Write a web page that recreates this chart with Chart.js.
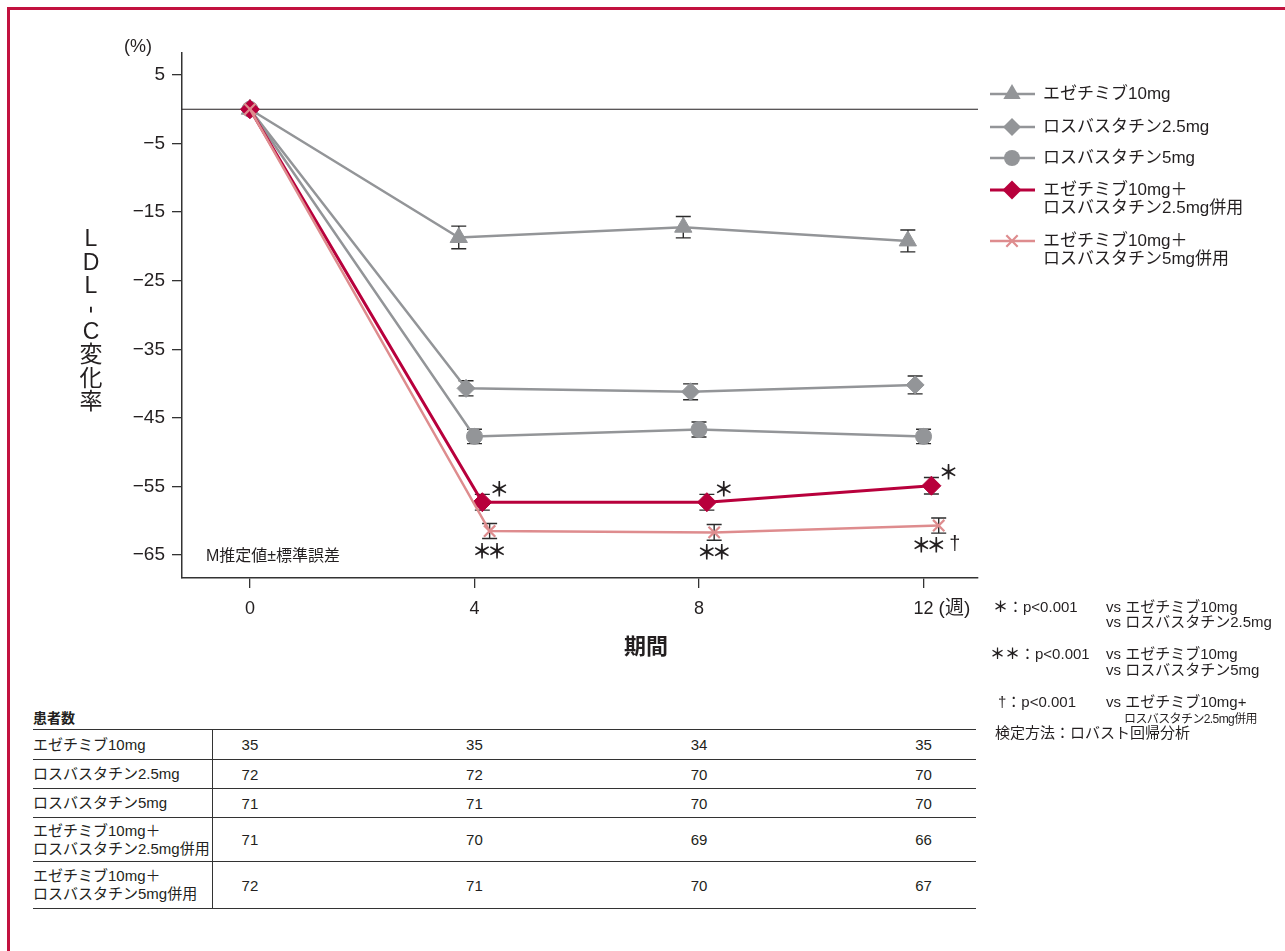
<!DOCTYPE html>
<html lang="ja">
<head>
<meta charset="utf-8">
<title>LDL-C変化率</title>
<script src="https://cdn.jsdelivr.net/npm/chart.js@4.4.1/dist/chart.umd.min.js"></script>
<style>
  html, body { margin: 0; padding: 0; background: #fff; }
  body { width: 1285px; height: 951px; position: relative; overflow: hidden;
         font-family: "Liberation Sans", "Noto Sans CJK JP", sans-serif; color: #231f20; }
  .frame { position: absolute; left: 7px; top: 7px; right: 0; bottom: 0;
           border-left: 3px solid #c2123f; border-top: 3px solid #c2123f; }
  #chart { position: absolute; left: 0; top: 0; }
  .note { position: absolute; font-size: 15px; line-height: 16px; white-space: nowrap; }
  .note.small { font-size: 12px; letter-spacing: -0.6px; }
  .note b { font-weight: bold; }
  .caption { position: absolute; left: 33px; top: 707px; font-size: 14px; font-weight: bold; }
  #table { position: absolute; left: 33px; top: 729px; width: 943px; border-top: 1.5px solid #333; }
  .row { position: relative; border-bottom: 1.5px solid #333; }
  .row .label { position: absolute; left: 0; top: 0; bottom: 0; width: 179px; border-right: 1px solid #333;
                display: flex; align-items: center; font-size: 15px; line-height: 18px; }
  .row .val { position: absolute; top: 0; bottom: 0; width: 60px; display: flex; align-items: center;
              justify-content: center; font-size: 15px; }
</style>
</head>
<body>
<div class="frame"></div>
<canvas id="chart" width="1285" height="680"></canvas>

<div class="note" style="left:993px; top:599px;"><b>＊</b>：p&lt;0.001</div>
<div class="note" style="left:1106px; top:599px;">vs エゼチミブ10mg</div>
<div class="note" style="left:1106px; top:614px;">vs ロスバスタチン2.5mg</div>
<div class="note" style="left:990px; top:646px;"><b>＊＊</b>：p&lt;0.001</div>
<div class="note" style="left:1106px; top:646px;">vs エゼチミブ10mg</div>
<div class="note" style="left:1106px; top:662px;">vs ロスバスタチン5mg</div>
<div class="note" style="left:998px; top:694px;">†：p&lt;0.001</div>
<div class="note" style="left:1106px; top:694px;">vs エゼチミブ10mg+</div>
<div class="note small" style="left:1124px; top:711px;">ロスバスタチン2.5mg併用</div>
<div class="note" style="left:995px; top:725px;">検定方法：ロバスト回帰分析</div>

<div class="caption">患者数</div>
<div id="table"></div>

<script>
const weeks = [0, 4, 8, 12];
const xTicks = [0, 4, 8, 12];
const yTicks = [5, -5, -15, -25, -35, -45, -55, -65];

const seriesLabels = [
    ['エゼチミブ10mg'],
    ['ロスバスタチン2.5mg'],
    ['ロスバスタチン5mg'],
    ['エゼチミブ10mg＋', 'ロスバスタチン2.5mg併用'],
    ['エゼチミブ10mg＋', 'ロスバスタチン5mg併用']
];

// LDL-C change (%) and standard error
const eze10 = [0, -18.7, -17.2, -19.2];
const eze10Err = [0, 1.65, 1.55, 1.6];
const ros25 = [0, -40.7, -41.2, -40.2];
const ros25Err = [0, 1.1, 1.15, 1.3];
const ros5 = [0, -47.7, -46.7, -47.7];
const ros5Err = [0, 1.05, 1.1, 1.05];
const combo25 = [0, -57.3, -57.3, -54.9];
const combo25Err = [0, 1.15, 1.15, 1.2];
const combo5 = [0, -61.5, -61.7, -60.7];
const combo5Err = [0, 1.1, 1.15, 1.1];

// significance marks
const combo25Marks = ['', '＊', '＊', '＊'];
const combo5Marks = ['', '＊＊', '＊＊', '＊＊'];
const combo5Dagger = [false, false, false, true];

// patient counts
const tableLabels = seriesLabels;
const nEze10 = [35, 35, 34, 35];
const nRos25 = [72, 72, 70, 70];
const nRos5 = [71, 71, 70, 70];
const nCombo25 = [71, 70, 69, 66];
const nCombo5 = [72, 71, 70, 67];

// small offsets (weeks) so the markers sit side by side
const dodge = [-0.28, -0.15, 0, 0.14, 0.27];

const FONT = '"Liberation Sans", "Noto Sans CJK JP", sans-serif';
const INK = '#231f20';
const GRAY = '#939598';
const RED = '#b8003c';
const PINK = '#de8c8e';

const styles = [
    { color: GRAY, pointStyle: 'triangle', radius: 10, width: 2.5, order: 4 },
    { color: GRAY, pointStyle: 'rectRot', radius: 9, width: 2.5, order: 3 },
    { color: GRAY, pointStyle: 'circle', radius: 8, width: 2.5, order: 2 },
    { color: RED, pointStyle: 'rectRot', radius: 9.5, width: 3, order: 1 },
    { color: PINK, pointStyle: 'crossRot', radius: 8, width: 2.5, order: 0 }
];
const values = [eze10, ros25, ros5, combo25, combo5];
const errors = [eze10Err, ros25Err, ros5Err, combo25Err, combo5Err];

function points(k) {
    return weeks.map((w, j) => ({ x: w === 0 ? w : w + dodge[k], y: values[k][j], err: errors[k][j] }));
}

function drawMarker(ctx, st, x, y) {
    const r = st.radius;
    ctx.save();
    ctx.fillStyle = st.color;
    ctx.strokeStyle = st.color;
    ctx.lineWidth = st.pointStyle === 'crossRot' ? 2.2 : 1;
    ctx.beginPath();
    if (st.pointStyle === 'triangle') {
        ctx.moveTo(x, y - r);
        ctx.lineTo(x + r * 0.866, y + r * 0.5);
        ctx.lineTo(x - r * 0.866, y + r * 0.5);
        ctx.closePath(); ctx.fill();
    } else if (st.pointStyle === 'rectRot') {
        ctx.moveTo(x, y - r); ctx.lineTo(x + r, y); ctx.lineTo(x, y + r); ctx.lineTo(x - r, y);
        ctx.closePath(); ctx.fill();
    } else if (st.pointStyle === 'circle') {
        ctx.arc(x, y, r, 0, Math.PI * 2); ctx.fill();
    } else {
        const d = r * 0.707;
        ctx.moveTo(x - d, y - d); ctx.lineTo(x + d, y + d);
        ctx.moveTo(x + d, y - d); ctx.lineTo(x - d, y + d);
        ctx.stroke();
    }
    ctx.restore();
}

const MARK_FONT = 'bold 20px "Noto Sans CJK JP", sans-serif';

const extras = {
    id: 'extras',
    beforeDatasetsDraw(chart) {
        const { ctx, chartArea, scales: { x, y } } = chart;
        ctx.save();
        // reference line at 0
        const y0 = y.getPixelForValue(0);
        ctx.strokeStyle = INK;
        ctx.lineWidth = 1.2;
        ctx.beginPath();
        ctx.moveTo(chartArea.left, y0);
        ctx.lineTo(chartArea.right, y0);
        ctx.stroke();
        // error bars
        ctx.strokeStyle = '#2b2b2b';
        ctx.lineWidth = 1.4;
        chart.data.datasets.forEach(ds => {
            ds.data.forEach(p => {
                if (!p.err) return;
                const px = x.getPixelForValue(p.x);
                const t = y.getPixelForValue(p.y + p.err);
                const b = y.getPixelForValue(p.y - p.err);
                ctx.beginPath();
                ctx.moveTo(px, t); ctx.lineTo(px, b);
                ctx.moveTo(px - 7.5, t); ctx.lineTo(px + 7.5, t);
                ctx.moveTo(px - 7.5, b); ctx.lineTo(px + 7.5, b);
                ctx.stroke();
            });
        });
        ctx.restore();
    },
    afterDraw(chart) {
        const { ctx, scales: { x, y } } = chart;
        ctx.save();
        ctx.fillStyle = INK;
        ctx.textBaseline = 'middle';

        // significance marks
        ctx.textAlign = 'center';
        ctx.font = MARK_FONT;
        chart.data.datasets[3].data.forEach((p, j) => {
            if (!combo25Marks[j]) return;
            ctx.fillText(combo25Marks[j], x.getPixelForValue(p.x) + 17, y.getPixelForValue(p.y) - 13);
        });
        chart.data.datasets[4].data.forEach((p, j) => {
            if (!combo5Marks[j]) return;
            const px = x.getPixelForValue(p.x);
            const py = y.getPixelForValue(p.y) + 20;
            const shift = combo5Dagger[j] ? -10 : 0;
            const chars = Array.from(combo5Marks[j]);
            chars.forEach((c, i) => {
                ctx.fillText(c, px + shift + (i - (chars.length - 1) / 2) * 15, py);
            });
            if (combo5Dagger[j]) {
                ctx.font = '20px ' + FONT;
                ctx.fillText('†', px + 16, py - 1);
                ctx.font = MARK_FONT;
            }
        });

        // axis texts
        ctx.font = '18px ' + FONT;
        ctx.fillText('(%)', 138, 47);
        ctx.textAlign = 'left';
        ctx.font = '19px ' + FONT;
        ctx.fillText('(週)', x.getPixelForValue(12) + 15, 609);
        ctx.font = '16px ' + FONT;
        ctx.fillText('M推定値±標準誤差', 206, 557);
        ctx.textAlign = 'center';
        ctx.font = 'bold 22px ' + FONT;
        ctx.fillText('期間', 646, 648);

        // vertical y title
        ctx.font = '23px ' + FONT;
        Array.from('LDL-C変化率').forEach((c, i) => {
            const cy = 240 + i * 23.2;
            if (c === '-') {
                ctx.save();
                ctx.translate(91, cy);
                ctx.rotate(Math.PI / 2);
                ctx.fillText(c, 0, 0);
                ctx.restore();
            } else {
                ctx.fillText(c, 91, cy);
            }
        });

        // legend
        const legendY = [94, 127, 158, 190, 241];
        ctx.textAlign = 'left';
        ctx.font = '17px ' + FONT;
        seriesLabels.forEach((lines, k) => {
            const st = styles[k];
            const ly = legendY[k];
            ctx.strokeStyle = st.color;
            ctx.lineWidth = st.width;
            ctx.beginPath();
            ctx.moveTo(990, ly); ctx.lineTo(1035, ly);
            ctx.stroke();
            drawMarker(ctx, st, 1012, ly);
            ctx.fillStyle = INK;
            lines.forEach((t, i) => ctx.fillText(t, 1043, ly + i * 18));
        });
        ctx.restore();
    }
};

const chart = new Chart(document.getElementById('chart'), {
    type: 'line',
    data: {
        datasets: styles.map((st, k) => ({
            label: seriesLabels[k].join(''),
            data: points(k),
            borderColor: st.color,
            backgroundColor: st.color,
            borderWidth: st.width,
            pointStyle: st.pointStyle,
            pointRadius: st.radius,
            pointBorderWidth: st.pointStyle === 'crossRot' ? 2.2 : 1,
            pointBackgroundColor: st.color,
            pointBorderColor: st.color,
            order: st.order,
            tension: 0
        }))
    },
    options: {
        responsive: false,
        animation: false,
        devicePixelRatio: 1,
        layout: { padding: { left: 0, top: 53, right: 307, bottom: 0 } },
        plugins: { legend: { display: false }, tooltip: { enabled: false } },
        scales: {
            x: {
                type: 'linear',
                min: -1.21,
                max: 12.97,
                afterBuildTicks: axis => { axis.ticks = xTicks.map(v => ({ value: v })); },
                afterFit: axis => { axis.height = 102; },
                ticks: { color: INK, font: { family: FONT, size: 18 }, padding: 10, callback: v => String(v) },
                grid: { drawOnChartArea: false, tickLength: 10, color: '#333', lineWidth: 1.3 },
                border: { display: true, color: '#333', width: 1.5 }
            },
            y: {
                min: -68.35,
                max: 8.2,
                afterBuildTicks: axis => { axis.ticks = yTicks.map(v => ({ value: v })); },
                afterFit: axis => { axis.width = 182; },
                ticks: { color: INK, font: { family: FONT, size: 19 }, padding: 7,
                         callback: v => (v < 0 ? '\u2212' + Math.abs(v) : String(v)) },
                grid: { drawOnChartArea: false, tickLength: 10, color: '#333', lineWidth: 1.3 },
                border: { display: true, color: '#333', width: 1.5 }
            }
        }
    },
    plugins: [extras]
});

// patient table, value columns aligned with the week ticks
const counts = [nEze10, nRos25, nRos5, nCombo25, nCombo5];
const rowHeights = [29, 28, 28, 43, 46];
const table = document.getElementById('table');
const colX = weeks.map(w => chart.scales.x.getPixelForValue(w) - 33);
tableLabels.forEach((lines, r) => {
    const row = document.createElement('div');
    row.className = 'row';
    row.style.height = rowHeights[r] + 'px';
    const lab = document.createElement('div');
    lab.className = 'label';
    lab.innerHTML = lines.join('<br>');
    row.appendChild(lab);
    counts[r].forEach((n, c) => {
        const v = document.createElement('div');
        v.className = 'val';
        v.style.left = (colX[c] - 30) + 'px';
        v.textContent = n;
        row.appendChild(v);
    });
    table.appendChild(row);
});
</script>
</body>
</html>
